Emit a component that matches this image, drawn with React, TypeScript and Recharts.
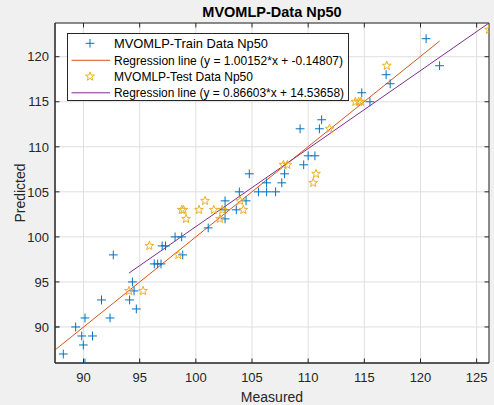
import React from 'react';
import {
  ScatterChart,
  Scatter,
  XAxis,
  YAxis,
  CartesianGrid,
  ReferenceLine,
  ReferenceArea,
} from 'recharts';

// ---------- data ----------
const trainX = [
  87.46, 88.2, 89.3, 89.84, 89.98, 90.13, 90.13, 90.8, 91.6, 92.36, 92.65, 94.1, 94.35, 94.5,
  94.7, 96.3, 96.6, 96.9, 97.0, 97.3, 98.15, 98.74, 98.83, 101.1, 102.6, 102.6, 102.6, 103.6,
  103.87, 104.47, 104.76, 105.57, 106.3, 106.3, 107.1, 107.65, 107.9, 109.28, 109.6, 110.0,
  110.6, 111.0, 111.2, 114.77, 115.5, 116.94, 117.3, 120.5, 121.7,
];
const trainY = [
  90, 87, 90, 89, 88, 86, 91, 89, 93, 91, 98, 93, 95, 94, 92, 97, 97, 97, 99, 99, 100, 100, 98,
  101, 104, 103, 102, 103, 105, 104, 107, 105, 105, 106, 105, 106, 107, 112, 108, 109, 109, 112,
  113, 116, 115, 118, 117, 122, 119,
];
const testX = [
  94.05, 95.3, 95.86, 98.44, 98.75, 98.9, 99.13, 100.28, 100.82, 101.6, 102.15, 102.35, 103.94,
  104.23, 107.8, 108.15, 110.45, 110.7, 111.9, 114.2, 114.5, 114.7, 117.0, 126.1,
];
const testY = [
  94, 94, 99, 98, 103, 103, 102, 103, 104, 103, 102, 103, 104, 103, 108, 108, 106, 107, 112, 115,
  115, 115, 119, 123,
];
const trainFit = { slope: 1.00152, intercept: -0.14807 };
const testFit = { slope: 0.86603, intercept: 14.53658 };
const xTicks = [90, 95, 100, 105, 110, 115, 120, 125];
const yTicks = [90, 95, 100, 105, 110, 115, 120];
const title = 'MVOMLP-Data Np50';
const xLabel = 'Measured';
const yLabel = 'Predicted';
const legendLabels = [
  'MVOMLP-Train Data Np50',
  'Regression line (y = 1.00152*x + -0.14807)',
  'MVOMLP-Test Data Np50',
  'Regression line (y = 0.86603*x + 14.53658)',
];

// ---------- derived ----------
const trainData = trainX.map((x, i) => ({ x, y: trainY[i] }));
const testData = testX.map((x, i) => ({ x, y: testY[i] }));
const fitSeg = (xs: number[], f: { slope: number; intercept: number }) => {
  const a = Math.min(...xs);
  const b = Math.max(...xs);
  return [
    { x: a, y: f.slope * a + f.intercept },
    { x: b, y: f.slope * b + f.intercept },
  ];
};
const trainSeg = fitSeg(trainX, trainFit);
const testSeg = fitSeg(testX, testFit);
const allX = [...trainX, ...testX];
const allY = [...trainY, ...testY, ...trainSeg.map((p) => p.y), ...testSeg.map((p) => p.y)];
const xDomain = [Math.min(...allX), Math.max(...allX)];
const yDomain = [Math.min(...allY), Math.max(...allY)];

// ---------- style ----------
const FONT = '"Liberation Sans", Arial, Helvetica, sans-serif';
const W = 494;
const H = 405;
const MARGIN = { top: 23, right: 5, bottom: 0, left: 0 };
const Y_AXIS_W = 55;
const X_AXIS_H = 42;
const PLOT_W = W - MARGIN.left - MARGIN.right - Y_AXIS_W;
const PLOT_H = H - MARGIN.top - MARGIN.bottom - X_AXIS_H;
const AXIS_COLOR = '#262626';
const BLUE = '#0072BD';
const ORANGE = '#D95319';
const YELLOW = '#EDB120';
const PURPLE = '#7E2F8E';
const TICK_LEN = 4.5;
const LEGEND_TEXT_W = [154, 229, 139, 230];
const LEGEND_FONT = [13, 12, 13, 12];

const PlusMark = ({ cx, cy }: { cx: number; cy: number }) => (
  <g>
    <line x1={cx - 4.4} y1={cy} x2={cx + 4.4} y2={cy} stroke={BLUE} strokeWidth={1} />
    <line x1={cx} y1={cy - 4.4} x2={cx} y2={cy + 4.4} stroke={BLUE} strokeWidth={1} />
  </g>
);

const starPath = (cx: number, cy: number, R: number, r: number) => {
  const pts: string[] = [];
  for (let i = 0; i < 10; i++) {
    const rad = i % 2 === 0 ? R : r;
    const ang = -Math.PI / 2 + (i * Math.PI) / 5;
    pts.push(`${(cx + rad * Math.cos(ang)).toFixed(2)},${(cy + rad * Math.sin(ang)).toFixed(2)}`);
  }
  return `M${pts.join('L')}Z`;
};

const StarMark = ({ cx, cy }: { cx: number; cy: number }) => (
  <path d={starPath(cx, cy, 4.6, 1.9)} fill="none" stroke={YELLOW} strokeWidth={1} />
);

const XTick = (props: any) => {
  const { x, y, payload } = props;
  return (
    <g>
      <line x1={x} y1={y} x2={x} y2={y - TICK_LEN} stroke={AXIS_COLOR} strokeWidth={1} />
      <line x1={x} y1={y - PLOT_H} x2={x} y2={y - PLOT_H + TICK_LEN} stroke={AXIS_COLOR} strokeWidth={1} />
      <text x={x} y={y + 18.5} textAnchor="middle" fontSize={13} fontFamily={FONT} fill={AXIS_COLOR}>
        {payload.value}
      </text>
    </g>
  );
};

const YTick = (props: any) => {
  const { x, y, payload } = props;
  return (
    <g>
      <line x1={x} y1={y} x2={x + TICK_LEN} y2={y} stroke={AXIS_COLOR} strokeWidth={1} />
      <line x1={x + PLOT_W} y1={y} x2={x + PLOT_W - TICK_LEN} y2={y} stroke={AXIS_COLOR} strokeWidth={1} />
      <text x={x - 6} y={y + 4.7} textAnchor="end" fontSize={13} fontFamily={FONT} fill={AXIS_COLOR}>
        {payload.value}
      </text>
    </g>
  );
};

const Legend = () => {
  const rowsY = [10.3, 27.3, 43.5, 59.8];
  return (
    <svg width={282} height={68} style={{ position: 'absolute', left: 67, top: 33 }}>
      <rect x={0.5} y={0.5} width={281} height={67} fill="#ffffff" stroke={AXIS_COLOR} strokeWidth={1} />
      <PlusMark cx={23} cy={rowsY[0]} />
      <line x1={4.5} y1={rowsY[1]} x2={43} y2={rowsY[1]} stroke={ORANGE} strokeWidth={1} />
      <StarMark cx={23} cy={rowsY[2]} />
      <line x1={4.5} y1={rowsY[3]} x2={43} y2={rowsY[3]} stroke={PURPLE} strokeWidth={1} />
      {legendLabels.map((t, i) => (
        <text
          key={t}
          x={47}
          y={rowsY[i] + 4.6}
          fontSize={LEGEND_FONT[i]}
          fontFamily={FONT}
          fill="#000"
          textLength={LEGEND_TEXT_W[i]}
          lengthAdjust="spacingAndGlyphs"
        >
          {t}
        </text>
      ))}
    </svg>
  );
};

export default function App() {
  return (
    <div
      style={{
        position: 'absolute',
        left: 0,
        top: 0,
        width: W,
        height: H,
        background: '#f0f0f0',
        fontFamily: FONT,
      }}
    >
      <ScatterChart width={W} height={H} margin={MARGIN}>
        <CartesianGrid fill="#ffffff" stroke="#dfdfdf" strokeWidth={1} />
        <XAxis
          type="number"
          dataKey="x"
          domain={xDomain}
          ticks={xTicks}
          allowDataOverflow
          height={X_AXIS_H}
          tickSize={0}
          tickMargin={0}
          tickLine={false}
          axisLine={{ stroke: AXIS_COLOR }}
          tick={<XTick />}
          interval={0}
        />
        <YAxis
          type="number"
          dataKey="y"
          domain={yDomain}
          ticks={yTicks}
          allowDataOverflow
          width={Y_AXIS_W}
          tickSize={0}
          tickMargin={0}
          tickLine={false}
          axisLine={{ stroke: AXIS_COLOR }}
          tick={<YTick />}
          interval={0}
        />
        <ReferenceArea
          x1={xDomain[0]}
          x2={xDomain[1]}
          y1={yDomain[0]}
          y2={yDomain[1]}
          fill="none"
          fillOpacity={0}
          stroke={AXIS_COLOR}
          strokeWidth={1}
          ifOverflow="visible"
        />
        <Scatter
          name="train"
          data={trainData}
          isAnimationActive={false}
          shape={(p: any) => <PlusMark cx={p.cx} cy={p.cy} />}
        />
        <ReferenceLine segment={trainSeg} stroke={ORANGE} strokeWidth={1} ifOverflow="visible" />
        <Scatter
          name="test"
          data={testData}
          isAnimationActive={false}
          shape={(p: any) => <StarMark cx={p.cx} cy={p.cy} />}
        />
        <ReferenceLine segment={testSeg} stroke={PURPLE} strokeWidth={1} ifOverflow="visible" />
      </ScatterChart>
      <svg width={W} height={H} style={{ position: 'absolute', left: 0, top: 0, pointerEvents: 'none' }}>
        <text x={272} y={17} textAnchor="middle" fontSize={14.5} fontWeight="bold" fontFamily={FONT} fill="#000">
          {title}
        </text>
        <text x={272} y={402} textAnchor="middle" fontSize={14} fontFamily={FONT} fill={AXIS_COLOR}>
          {xLabel}
        </text>
        <text
          x={0}
          y={0}
          transform={`translate(24.5,193) rotate(-90)`}
          textAnchor="middle"
          fontSize={14}
          fontFamily={FONT}
          fill={AXIS_COLOR}
        >
          {yLabel}
        </text>
      </svg>
      <Legend />
    </div>
  );
}
